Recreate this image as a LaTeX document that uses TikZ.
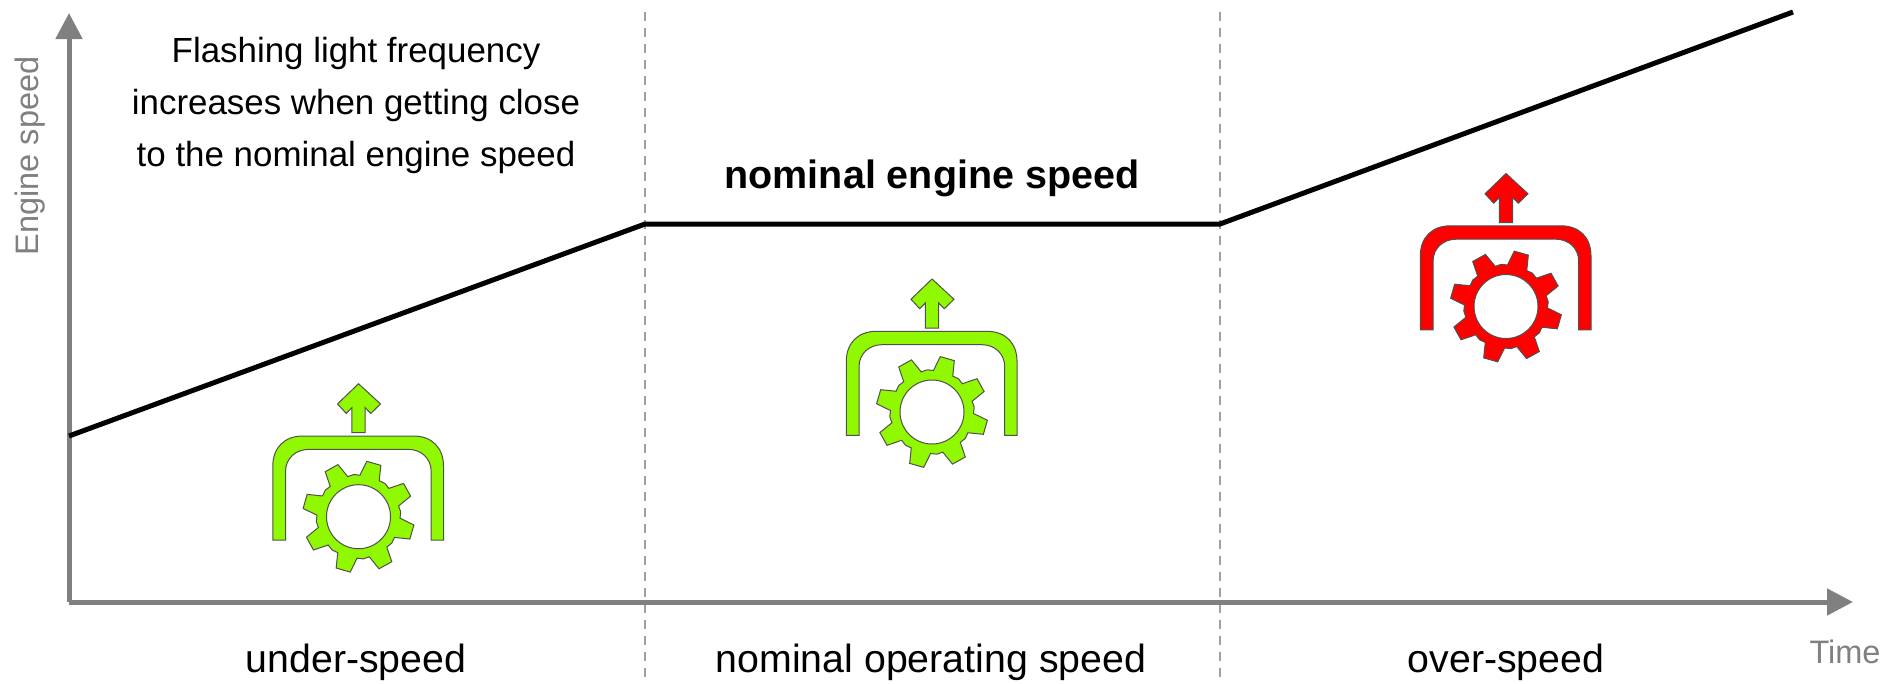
\documentclass[tikz,border=0pt]{standalone}
\usepackage{fontspec}
\setmainfont{Liberation Sans}
\definecolor{axisgray}{HTML}{808080}
\definecolor{dashgray}{HTML}{A0A0A0}
\definecolor{icongreen}{HTML}{90F800}
\definecolor{iconred}{HTML}{FF0000}
\definecolor{iconline}{HTML}{505050}
\usetikzlibrary{arrows.meta}
\tikzset{x=1pt,y=-1pt,
  axisline/.style={draw=axisgray,line width=5pt,-{Triangle[length=26pt,width=26pt]}},
  speedline/.style={draw=black,line width=5pt,line join=miter},
  divider/.style={draw=dashgray,line width=2pt,dash pattern=on 9pt off 7pt},
  bodytext/.style={font=\fontsize{39.3}{52}\selectfont,text=black,inner sep=0pt,align=center},
  flashtext/.style={font=\fontsize{34.9}{52}\selectfont,text=black,inner sep=0pt,align=center},
  boldtext/.style={font=\bfseries\fontsize{39.5}{46}\selectfont,text=black,inner sep=0pt,align=center},
  axistext/.style={font=\fontsize{32.5}{36}\selectfont,text=axisgray,inner sep=0pt},
  iconpart/.style={draw=iconline,line width=1pt,line join=miter},
  pics/gearicon/.style={code={
    \path[iconpart,fill=#1] (0,-133) -- (22,-112.7) -- (12.3,-103.3) -- (6.7,-109) -- (6.7,-84) -- (-6.7,-84) -- (-6.7,-109) -- (-12.3,-103.3) -- (-21,-112.7) -- cycle;
    \path[iconpart,fill=#1] (-85.7,23.3) -- (-85.7,-50.7)
      .. controls (-85.7,-69) and (-74,-80.7) .. (-55.7,-80.7) -- (55,-80.7)
      .. controls (73.3,-80.7) and (85,-69) .. (85,-50.7) -- (85,23.3) -- (72.7,23.3) -- (72.7,-45)
      .. controls (72.7,-59) and (62,-67.3) .. (50,-67.3) -- (-50,-67.3)
      .. controls (-62,-67.3) and (-73,-59) .. (-73,-45) -- (-73,23.3) -- cycle;
    \path[iconpart,fill=#1,even odd rule] (-403:41.5)
      foreach \a in {-389,-344,-299,-254,-209,-164,-119,-74} {
        -- (\a-14:41.5) -- (\a-7.5:56) -- (\a+7.5:56) -- (\a+14:41.5) -- (\a+22.5:42.5)
      } -- cycle (0,0) circle[radius=32pt];
  }}
}
\begin{document}
\begin{tikzpicture}
\useasboundingbox (0,0) rectangle (1900,683);
\coordinate (origin) at (69,602);
\coordinate (ytip) at (69,13);
\coordinate (xtip) at (1853,602);
\coordinate (s0) at (69,436);
\coordinate (s1) at (645,224);
\coordinate (s2) at (1220,224);
\coordinate (s3) at (1793,12);
\coordinate (d1a) at (645,12);
\coordinate (d1b) at (645,683);
\coordinate (d2a) at (1220,12);
\coordinate (d2b) at (1220,683);
\draw[divider] (d1a) -- (d1b);
\draw[divider] (d2a) -- (d2b);
\draw[axisline] (origin) -- (ytip);
\draw[axisline] (origin) -- (xtip);
\draw[speedline] (s0) -- (s1) -- (s2) -- (s3);
\pic (g1) at (358.5,516.7) {gearicon=icongreen};
\pic (g2) at (932,412) {gearicon=icongreen};
\pic (g3) at (1506,306.5) {gearicon=iconred};
\node[flashtext] (flash) at (356,105) {Flashing light frequency\\increases when getting close\\to the nominal engine speed};
\node[boldtext] (nominal) at (932,178) {nominal engine speed};
\node[bodytext] (under) at (356,662) {under-speed};
\node[bodytext] (nomop) at (931,662) {nominal operating speed};
\node[bodytext] (over) at (1506,662) {over-speed};
\node[axistext] (time) at (1845,652) {Time};
\node[axistext,rotate=90] (engine) at (30,156) {Engine speed};
\end{tikzpicture}
\end{document}
